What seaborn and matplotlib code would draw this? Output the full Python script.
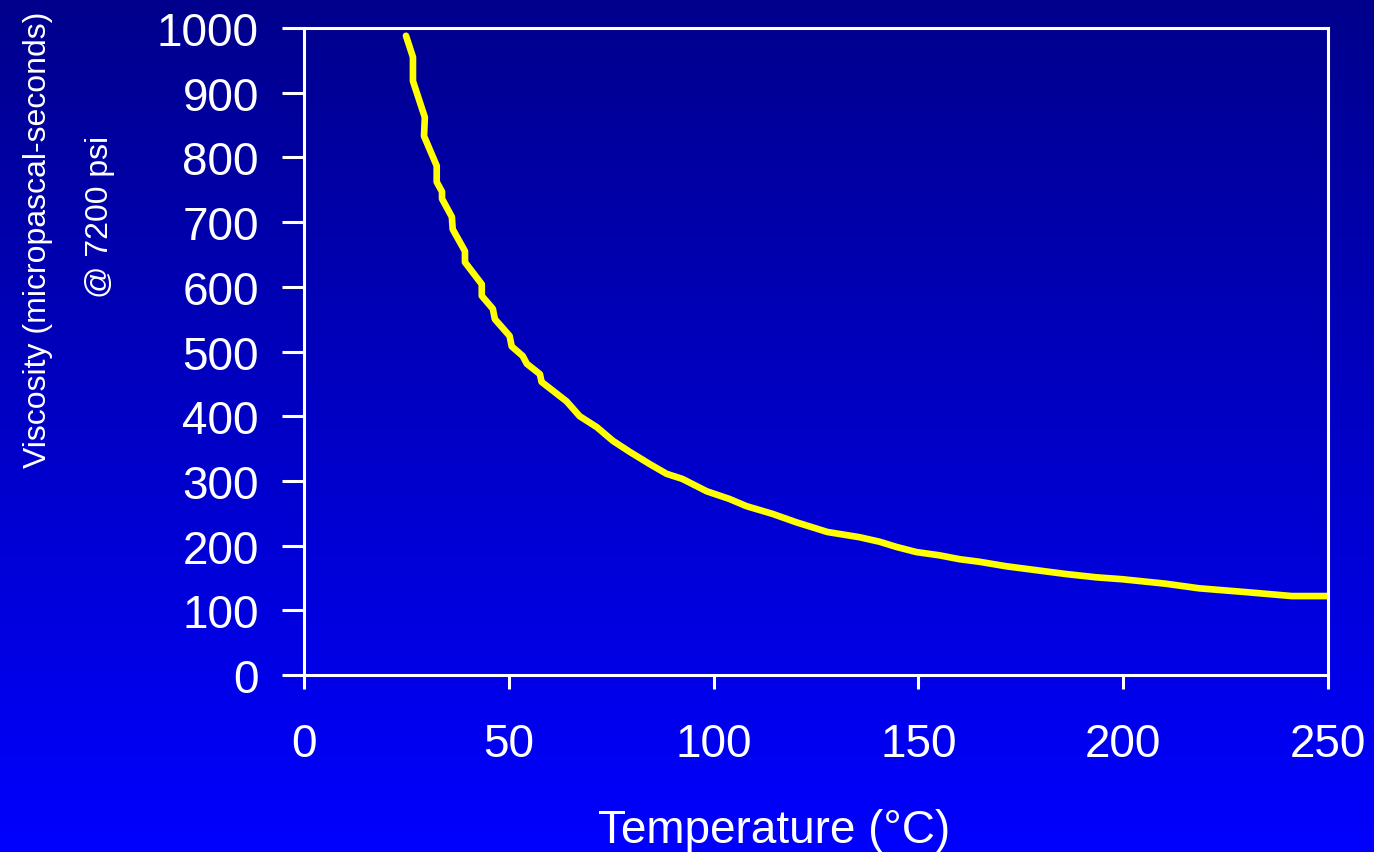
import numpy as np
import pandas as pd
import matplotlib
matplotlib.use("Agg")
import matplotlib.pyplot as plt
import seaborn as sns

# ---- data ----
temperature_c = [24.9, 26.6, 26.6, 29.5, 29.3, 32.4, 32.4, 33.7, 33.7, 36.1, 36.3,
                 39.3, 39.3, 43.4, 43.4, 46.1, 46.6, 50.2, 50.7, 53.4, 54.4, 57.6,
                 58.0, 64.1, 67.3, 71.5, 75.4, 79.5, 84.4, 88.5, 92.4, 98.3, 103.9,
                 108.0, 114.4, 120.2, 127.8, 135.6, 140.5, 144.6, 149.5, 155.1,
                 160.0, 164.9, 171.5, 178.8, 186.1, 193.4, 199.8, 210.5, 218.5,
                 230.2, 241.2, 249.8]
viscosity_upas = [988, 955, 918, 862, 833, 787, 762, 747, 736, 708, 689,
                  655, 638, 604, 586, 566, 550, 524, 508, 493, 481, 465,
                  453, 423, 400, 383, 362, 345, 326, 311, 303, 284, 272,
                  261, 249, 236, 221, 213, 206, 198, 190, 185,
                  179, 175, 168, 162, 156, 151, 148, 141, 134,
                  128, 122, 122]
x_ticks = [0, 50, 100, 150, 200, 250]
y_ticks = [0, 100, 200, 300, 400, 500, 600, 700, 800, 900, 1000]
x_label = "Temperature (°C)"
y_label_1 = "Viscosity (micropascal-seconds)"
y_label_2 = "@ 7200 psi"

df = pd.DataFrame({"T": temperature_c, "V": viscosity_upas})

sns.set_style("ticks")
plt.rcParams["font.family"] = ["Liberation Sans", "DejaVu Sans"]

W, H, DPI = 1374, 853, 100
fig = plt.figure(figsize=(W / DPI, H / DPI), dpi=DPI)

# gradient background
bg = fig.add_axes([0, 0, 1, 1], zorder=-10)
grad = np.linspace(0, 1, 256).reshape(-1, 1)
top = np.array([0, 0, 140]) / 255
bot = np.array([0, 0, 255]) / 255
img = top[None, None, :] * (1 - grad[:, :, None]) + bot[None, None, :] * grad[:, :, None]
bg.imshow(img, aspect="auto", extent=[0, 1, 0, 1], origin="upper")
bg.set_axis_off()

ax = fig.add_axes([304 / W, 1 - 676 / H, (1328 - 304) / W, (676 - 29) / H])
ax.patch.set_alpha(0)

sns.lineplot(data=df, x="T", y="V", ax=ax, color="#FFFF00", linewidth=4.8,
             sort=False, estimator=None)

ax.set_xlim(0, 250)
ax.set_ylim(0, 1000)
ax.set_xticks(x_ticks)
ax.set_yticks(y_ticks)
ax.set_xticklabels([str(t) for t in x_ticks])
ax.set_yticklabels([str(t) for t in y_ticks])

for s in ax.spines.values():
    s.set_color("white")
    s.set_linewidth(2.2)
    s.set_visible(True)

ax.tick_params(axis="x", colors="white", labelsize=33, length=10, width=2.2, pad=24, direction="out")
ax.tick_params(axis="y", colors="white", labelsize=33, length=16, width=2.2, pad=16.5, direction="out")

ax.set_xlabel(x_label, color="white", fontsize=33, va="baseline")
ax.xaxis.set_label_coords((774 - 304) / 1024, (676 - 843) / 647)
ax.set_ylabel("")

fig.text(38 / W, 1 - 240 / H, y_label_1, rotation=90, color="white",
         fontsize=23, ha="center", va="center")
fig.text(100 / W, 1 - 217 / H, y_label_2, rotation=90, color="white",
         fontsize=23, ha="center", va="center")

fig.savefig("out.png", dpi=DPI)
